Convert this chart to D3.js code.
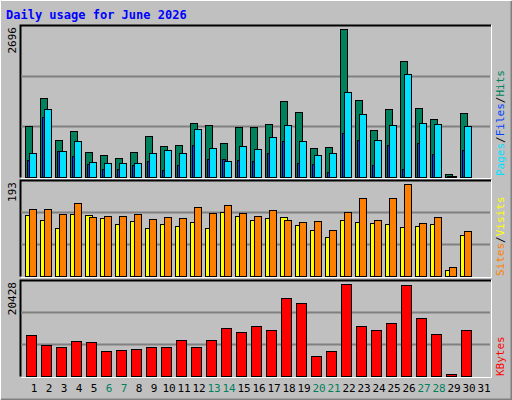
<!DOCTYPE html>
<html><head><meta charset="utf-8">
<script src="https://cdn.jsdelivr.net/npm/d3@7"></script>
<style>body{margin:0;background:#fff}</style>
</head><body><div id="viz"></div>
<script>
var days = d3.range(1, 32);
var weekends = [6, 7, 13, 14, 20, 21, 27, 28];
var hits   = [921,1433,665,830,464,409,354,464,738,573,592,976,939,628,903,903,958,1378,1177,537,555,2696,1397,848,1232,2110,1250,1049,61,1159,0];
var files  = [445,1232,482,647,281,262,262,262,445,500,445,866,537,299,573,518,720,939,647,409,445,1543,1141,665,939,1873,976,958,24,921,0];
var pages  = [305,1092,470,378,232,140,140,213,287,122,213,579,335,335,305,287,445,647,262,244,98,793,665,226,592,152,628,427,18,500,0];
var sites  = [128,117,100,130,128,121,109,115,100,109,105,113,100,134,125,117,121,123,107,96,82,117,113,111,109,102,105,109,13,86,0];
var visits = [140,140,130,153,123,125,125,130,119,123,121,144,132,148,132,125,138,117,113,115,96,134,163,117,163,193,111,123,19,94,0];
var kbytes = [9211,6983,6537,7874,7651,5646,5868,6091,6537,6537,8097,6537,8097,10548,9880,10994,10103,17234,16120,4531,5646,20428,10994,10103,11663,20131,12777,9434,520,10103,0];

var width = 512, height = 400;
var mono = "'DejaVu Sans Mono', monospace";

var svg = d3.select("#viz").append("svg")
    .attr("width", width).attr("height", height);

// background with bevel
svg.append("rect").attr("width", width).attr("height", height).attr("fill", "#c0c0c0");
svg.append("path").attr("d", "M0.5,399.5V0.5H511.5").attr("fill", "none").attr("stroke", "#fff");
svg.append("path").attr("d", "M1,399.5H511.5V1").attr("fill", "none").attr("stroke", "#808080").attr("stroke-width", 2);

svg.append("text").attr("x", 6).attr("y", 19)
    .attr("font-family", mono).attr("font-weight", "bold").attr("font-size", 12)
    .attr("fill", "#0000ff").text("Daily usage for June 2026");

var x = d3.scaleLinear().domain([1, 31]).range([25, 475]);

function panel(top, bottom, max, label) {
  var g = svg.append("g");
  g.append("rect").attr("x", 20).attr("y", top).attr("width", 471).attr("height", bottom - top)
      .attr("fill", "#c0c0c0");
  g.append("path").attr("d", "M20.5," + (bottom + 0.5) + "V" + (top + 0.5) + "H491")
      .attr("fill", "none").attr("stroke", "#000").attr("stroke-width", 2);
  g.append("path").attr("d", "M21," + (bottom + 1.5) + "H491.5V" + top)
      .attr("fill", "none").attr("stroke", "#fff");
  var y = d3.scaleLinear().domain([0, max]).range([bottom, top + 4]);
  var h = bottom - top;
  [1, 2].forEach(function(k) {
    g.append("line").attr("x1", 21).attr("x2", 490)
        .attr("y1", Math.round(top + h * k / 3) + 0.5).attr("y2", Math.round(top + h * k / 3) + 0.5)
        .attr("stroke", "#808080").attr("stroke-width", 2);
  });
  svg.append("text").attr("transform", "translate(16," + (top + 2) + ") rotate(-90)")
      .attr("text-anchor", "end").attr("font-family", mono).attr("font-size", 11)
      .attr("fill", "#000").text(label);
  return y;
}

function bars(data, y, dx, w, color) {
  svg.append("g").selectAll("rect").data(data).enter().append("rect")
      .filter(function(d) { return d > 0; })
      .attr("x", function(d, i) { return x(days[i]) + dx + 0.5; })
      .attr("y", function(d) { return Math.round(y(d)) + 0.5; })
      .attr("width", w)
      .attr("height", function(d) { return Math.max(1, y(0) - Math.round(y(d))); })
      .attr("fill", color).attr("stroke", "#000");
}

var y1 = panel(25, 177, 2696, "2696");
bars(hits, y1, 0, 7, "#00805c");
bars(pages, y1, 2, 3, "#0040ff");
bars(files, y1, 4, 7, "#00e0ff");

var y2 = panel(180, 276, 193, "193");
bars(sites, y2, 0, 7, "#ffff00");
bars(visits, y2, 4, 7, "#ff8000");

var y3 = panel(280, 376, 20428, "20428");
bars(kbytes, y3, 1, 10, "#ff0000");

// day labels
svg.append("g").selectAll("text").data(days).enter().append("text")
    .attr("x", function(d) { return x(d) + 9; })
    .attr("y", 392).attr("text-anchor", "middle")
    .attr("font-family", mono).attr("font-size", 11)
    .attr("fill", function(d) { return weekends.indexOf(d) >= 0 ? "#00805c" : "#000"; })
    .text(function(d) { return d; });

// right side legends
function legend(y, parts) {
  var t = svg.append("text").attr("transform", "translate(504," + y + ") rotate(-90)")
      .attr("font-family", mono).attr("font-size", 11);
  parts.forEach(function(p) {
    t.append("tspan").attr("fill", p[1]).text(p[0]);
  });
}
legend(176, [["Pages", "#00e0ff"], ["/", "#000"], ["Files", "#0040ff"], ["/", "#000"], ["Hits", "#00805c"]]);
legend(276, [["Sites", "#ff8000"], ["/", "#000"], ["Visits", "#ffff00"]]);
legend(376, [["KBytes", "#ff0000"]]);
</script>
</body></html>
